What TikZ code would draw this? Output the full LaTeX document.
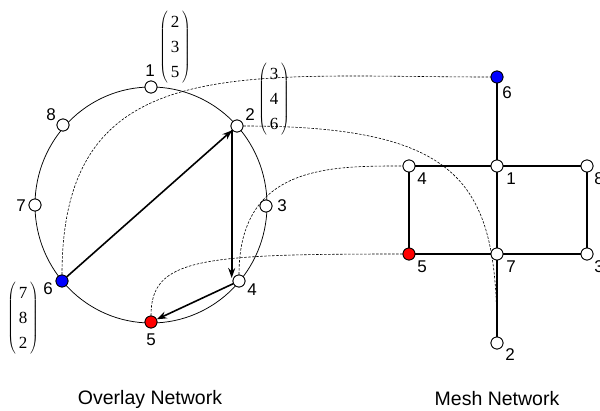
\documentclass[tikz,border=0pt]{standalone}
\usepackage{fontspec}
\setmainfont{Liberation Sans}
\newfontfamily\vecfont{Liberation Serif}
\usetikzlibrary{arrows.meta}
\newcommand{\colvec}[3]{$\left(\vcenter{\hbox{\vecfont\fontsize{17}{25}\selectfont\begin{tabular}{@{\,}c@{\,}}#1\\#2\\#3\end{tabular}}}\right)$}
\begin{document}
\begin{tikzpicture}[x=1pt,y=1pt,
 nd/.style={circle,draw,line width=0.8pt,fill=white,minimum size=12pt,inner sep=0pt},
 bluend/.style={nd,fill=blue},
 rednd/.style={nd,fill=red},
 lbl/.style={font=\fontsize{17}{17}\selectfont,inner sep=0pt},
 ttl/.style={font=\fontsize{19.5}{19.5}\selectfont,inner sep=0pt},
 vecnode/.style={inner sep=0pt},
 link/.style={dash pattern=on 2.5pt off 1.5pt,line width=0.6pt},
 meshedge/.style={line width=1.2pt},
 arr/.style={line width=1.6pt,-{Stealth[length=10pt,width=7pt]}},
]
\useasboundingbox (0,0) rectangle (600,-410);

% ring
\draw[line width=0.75pt] (151,-205) ellipse [x radius=116, y radius=118];

% overlay nodes
\node[nd] (o1) at (151,-87) {};
\node[nd] (o2) at (237,-126) {};
\node[nd] (o3) at (266,-206) {};
\node[nd] (o4) at (239,-281) {};
\node[rednd] (o5) at (151,-322) {};
\node[bluend] (o6) at (62,-281) {};
\node[nd] (o7) at (35,-205) {};
\node[nd] (o8) at (63,-125) {};

% mesh nodes
\node[bluend] (m6) at (497,-77) {};
\node[nd] (m4) at (409,-166) {};
\node[nd] (m1) at (497,-166) {};
\node[nd] (m8) at (587,-166) {};
\node[rednd] (m5) at (409,-254) {};
\node[nd] (m7) at (497,-254) {};
\node[nd] (m3) at (587,-254) {};
\node[nd] (m2) at (497,-343) {};

% dashed mapping curves
\draw[link] (o6) .. controls (62,-50) and (240,-77) .. (m6);
\draw[link] (o2) .. controls (465,-126) and (497,-185) .. (m2);
\draw[link] (o4) .. controls (239,-165) and (330,-166) .. (m4);
\draw[link] (o5) .. controls (151,-258) and (200,-254) .. (m5);

% mesh edges
\draw[meshedge] (m6) -- (m1);
\draw[meshedge] (m4) -- (m1);
\draw[meshedge] (m1) -- (m8);
\draw[meshedge] (m4) -- (m5);
\draw[meshedge] (m1) -- (m7);
\draw[meshedge] (m8) -- (m3);
\draw[meshedge] (m5) -- (m7);
\draw[meshedge] (m7) -- (m3);
\draw[meshedge] (m7) -- (m2);

% redraw nodes on top
\foreach \n in {o1,o2,o3,o4,o7,o8,m4,m1,m8,m7,m3,m2}{\node[nd] at (\n) {};}
\foreach \n in {o5,m5}{\node[rednd] at (\n) {};}
\foreach \n in {o6,m6}{\node[bluend] at (\n) {};}

% arrows
\coordinate (a4) at (232.5,-278);
\draw[arr] (o6) -- (o2);
\draw[arr,line width=2pt] (o2.214) -- (o2.214 |- a4);
\draw[arr] (o4) -- (o5);

% labels overlay
\node[lbl] (lo1) at (150,-71) {1};
\node[lbl] (lo2) at (250,-115) {2};
\node[lbl] (lo3) at (282,-206) {3};
\node[lbl] (lo4) at (252,-290) {4};
\node[lbl] (lo5) at (151,-340) {5};
\node[lbl] (lo6) at (48,-289) {6};
\node[lbl] (lo7) at (21,-206) {7};
\node[lbl] (lo8) at (51,-115) {8};

% labels mesh
\node[lbl] (lm6) at (507,-93) {6};
\node[lbl] (lm4) at (422,-179) {4};
\node[lbl] (lm1) at (511,-179) {1};
\node[lbl] (lm8) at (599,-179) {8};
\node[lbl] (lm5) at (422,-267) {5};
\node[lbl] (lm7) at (511,-267) {7};
\node[lbl] (lm3) at (599,-267) {3};
\node[lbl] (lm2) at (510,-355) {2};

% vectors
\node[vecnode] (v1) at (175,-47) {\colvec{2}{3}{5}};
\node[vecnode] (v2) at (274,-99) {\colvec{3}{4}{6}};
\node[vecnode] (v6) at (23,-318) {\colvec{7}{8}{2}};

% titles
\node[ttl] (t1) at (150,-399) {Overlay Network};
\node[ttl] (t2) at (497,-399) {Mesh Network};
\end{tikzpicture}
\end{document}
